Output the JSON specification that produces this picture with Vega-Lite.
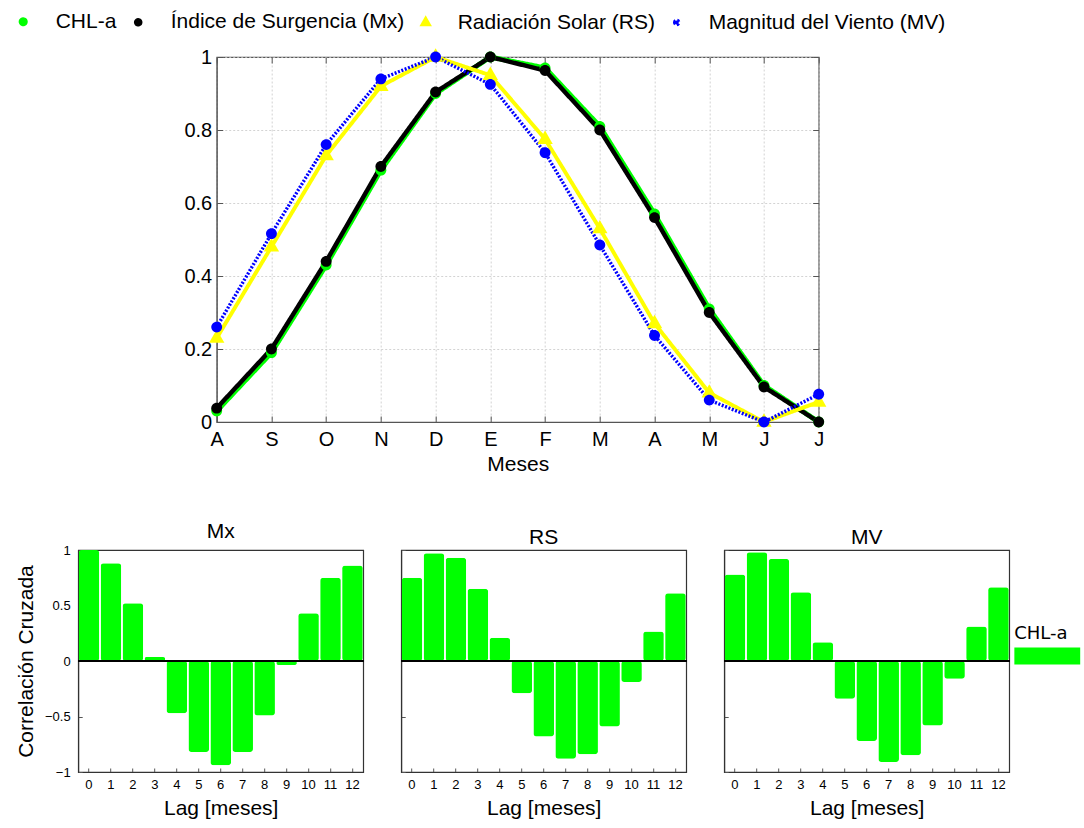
{
  "$schema": "https://vega.github.io/schema/vega-lite/v6.json",
  "padding": {"left": 8, "top": 6, "right": 10, "bottom": 0},
  "background": "white",
  "config": {
    "font": "Liberation Sans",
    "view": {"stroke": "#555", "strokeWidth": 1.2},
    "axis": {"labelFont": "Liberation Sans", "titleFont": "Liberation Sans", "labelColor": "#000", "titleColor": "#000", "titleFontWeight": "normal", "domainColor": "#555", "tickColor": "#555", "labelFlush": false, "labelOverlap": false},
    "title": {"font": "Liberation Sans", "fontWeight": "normal", "color": "#000"}
  },
  "datasets": {
    "series": [
      {"orden": 0, "mes": "A", "serie": "CHL-a", "valor": 0.03},
      {"orden": 1, "mes": "S", "serie": "CHL-a", "valor": 0.19},
      {"orden": 2, "mes": "O", "serie": "CHL-a", "valor": 0.43},
      {"orden": 3, "mes": "N", "serie": "CHL-a", "valor": 0.69},
      {"orden": 4, "mes": "D", "serie": "CHL-a", "valor": 0.9},
      {"orden": 5, "mes": "E", "serie": "CHL-a", "valor": 1.0},
      {"orden": 6, "mes": "F", "serie": "CHL-a", "valor": 0.97},
      {"orden": 7, "mes": "M", "serie": "CHL-a", "valor": 0.81},
      {"orden": 8, "mes": "A", "serie": "CHL-a", "valor": 0.57},
      {"orden": 9, "mes": "M", "serie": "CHL-a", "valor": 0.31},
      {"orden": 10, "mes": "J", "serie": "CHL-a", "valor": 0.1},
      {"orden": 11, "mes": "J", "serie": "CHL-a", "valor": 0.0},
      {"orden": 0, "mes": "A", "serie": "Índice de Surgencia (Mx)", "valor": 0.038},
      {"orden": 1, "mes": "S", "serie": "Índice de Surgencia (Mx)", "valor": 0.2},
      {"orden": 2, "mes": "O", "serie": "Índice de Surgencia (Mx)", "valor": 0.44},
      {"orden": 3, "mes": "N", "serie": "Índice de Surgencia (Mx)", "valor": 0.7},
      {"orden": 4, "mes": "D", "serie": "Índice de Surgencia (Mx)", "valor": 0.904},
      {"orden": 5, "mes": "E", "serie": "Índice de Surgencia (Mx)", "valor": 1.0},
      {"orden": 6, "mes": "F", "serie": "Índice de Surgencia (Mx)", "valor": 0.963},
      {"orden": 7, "mes": "M", "serie": "Índice de Surgencia (Mx)", "valor": 0.8},
      {"orden": 8, "mes": "A", "serie": "Índice de Surgencia (Mx)", "valor": 0.56},
      {"orden": 9, "mes": "M", "serie": "Índice de Surgencia (Mx)", "valor": 0.3},
      {"orden": 10, "mes": "J", "serie": "Índice de Surgencia (Mx)", "valor": 0.096},
      {"orden": 11, "mes": "J", "serie": "Índice de Surgencia (Mx)", "valor": 0.0},
      {"orden": 0, "mes": "A", "serie": "Radiación Solar (RS)", "valor": 0.23},
      {"orden": 1, "mes": "S", "serie": "Radiación Solar (RS)", "valor": 0.48},
      {"orden": 2, "mes": "O", "serie": "Radiación Solar (RS)", "valor": 0.73},
      {"orden": 3, "mes": "N", "serie": "Radiación Solar (RS)", "valor": 0.92},
      {"orden": 4, "mes": "D", "serie": "Radiación Solar (RS)", "valor": 1.0},
      {"orden": 5, "mes": "E", "serie": "Radiación Solar (RS)", "valor": 0.95},
      {"orden": 6, "mes": "F", "serie": "Radiación Solar (RS)", "valor": 0.775},
      {"orden": 7, "mes": "M", "serie": "Radiación Solar (RS)", "valor": 0.53},
      {"orden": 8, "mes": "A", "serie": "Radiación Solar (RS)", "valor": 0.27},
      {"orden": 9, "mes": "M", "serie": "Radiación Solar (RS)", "valor": 0.08},
      {"orden": 10, "mes": "J", "serie": "Radiación Solar (RS)", "valor": 0.0},
      {"orden": 11, "mes": "J", "serie": "Radiación Solar (RS)", "valor": 0.055},
      {"orden": 0, "mes": "A", "serie": "Magnitud del Viento (MV)", "valor": 0.26},
      {"orden": 1, "mes": "S", "serie": "Magnitud del Viento (MV)", "valor": 0.516},
      {"orden": 2, "mes": "O", "serie": "Magnitud del Viento (MV)", "valor": 0.76},
      {"orden": 3, "mes": "N", "serie": "Magnitud del Viento (MV)", "valor": 0.94},
      {"orden": 4, "mes": "D", "serie": "Magnitud del Viento (MV)", "valor": 1.0},
      {"orden": 5, "mes": "E", "serie": "Magnitud del Viento (MV)", "valor": 0.925},
      {"orden": 6, "mes": "F", "serie": "Magnitud del Viento (MV)", "valor": 0.738},
      {"orden": 7, "mes": "M", "serie": "Magnitud del Viento (MV)", "valor": 0.485},
      {"orden": 8, "mes": "A", "serie": "Magnitud del Viento (MV)", "valor": 0.237},
      {"orden": 9, "mes": "M", "serie": "Magnitud del Viento (MV)", "valor": 0.06},
      {"orden": 10, "mes": "J", "serie": "Magnitud del Viento (MV)", "valor": 0.0},
      {"orden": 11, "mes": "J", "serie": "Magnitud del Viento (MV)", "valor": 0.076}
    ],
    "mx": [
      {"lag": 0, "correlacion": 1.0}, {"lag": 1, "correlacion": 0.88}, {"lag": 2, "correlacion": 0.52},
      {"lag": 3, "correlacion": 0.035}, {"lag": 4, "correlacion": -0.47}, {"lag": 5, "correlacion": -0.82},
      {"lag": 6, "correlacion": -0.94}, {"lag": 7, "correlacion": -0.82}, {"lag": 8, "correlacion": -0.49},
      {"lag": 9, "correlacion": -0.035}, {"lag": 10, "correlacion": 0.43}, {"lag": 11, "correlacion": 0.75},
      {"lag": 12, "correlacion": 0.86}
    ],
    "rs": [
      {"lag": 0, "correlacion": 0.75}, {"lag": 1, "correlacion": 0.97}, {"lag": 2, "correlacion": 0.93},
      {"lag": 3, "correlacion": 0.65}, {"lag": 4, "correlacion": 0.21}, {"lag": 5, "correlacion": -0.29},
      {"lag": 6, "correlacion": -0.68}, {"lag": 7, "correlacion": -0.88}, {"lag": 8, "correlacion": -0.84},
      {"lag": 9, "correlacion": -0.59}, {"lag": 10, "correlacion": -0.19}, {"lag": 11, "correlacion": 0.265},
      {"lag": 12, "correlacion": 0.61}
    ],
    "mv": [
      {"lag": 0, "correlacion": 0.78}, {"lag": 1, "correlacion": 0.98}, {"lag": 2, "correlacion": 0.92},
      {"lag": 3, "correlacion": 0.62}, {"lag": 4, "correlacion": 0.17}, {"lag": 5, "correlacion": -0.34},
      {"lag": 6, "correlacion": -0.72}, {"lag": 7, "correlacion": -0.91}, {"lag": 8, "correlacion": -0.85},
      {"lag": 9, "correlacion": -0.58}, {"lag": 10, "correlacion": -0.16}, {"lag": 11, "correlacion": 0.31},
      {"lag": 12, "correlacion": 0.665}
    ]
  },
  "resolve": {
    "scale": {"color": "independent", "shape": "independent", "strokeDash": "independent", "strokeWidth": "independent"},
    "legend": {"color": "independent", "shape": "independent"}
  },
  "spacing": 45,
  "center": true,
  "vconcat": [
    {
      "width": 602,
      "height": 365,
      "data": {"name": "series"},
      "resolve": {"axis": {"x": "independent", "y": "independent"}},
      "layer": [
        {
          "mark": {"type": "line", "strokeJoin": "round", "strokeCap": "butt"},
          "encoding": {
            "x": {
              "field": "orden", "type": "quantitative",
              "scale": {"domain": [0, 11], "nice": false, "zero": false},
              "axis": {
                "values": [0, 1, 2, 3, 4, 5, 6, 7, 8, 9, 10, 11],
                "labelExpr": "['A','S','O','N','D','E','F','M','A','M','J','J'][datum.value]",
                "title": "Meses", "titleFontSize": 21, "titlePadding": 4,
                "labelFontSize": 20, "labelPadding": 13,
                "tickSize": -6, "grid": true, "gridColor": "#c8c8c8", "gridDash": [2, 2], "gridWidth": 0.8
              }
            },
            "y": {
              "field": "valor", "type": "quantitative",
              "scale": {"domain": [0, 1], "nice": false},
              "axis": {
                "values": [0, 0.2, 0.4, 0.6, 0.8, 1], "format": "~g", "title": null,
                "labelFontSize": 20, "labelPadding": 11, "tickSize": -6,
                "grid": true, "gridColor": "#c8c8c8", "gridDash": [2, 2], "gridWidth": 0.8
              }
            },
            "color": {
              "field": "serie", "type": "nominal",
              "scale": {"domain": ["CHL-a", "Índice de Surgencia (Mx)", "Radiación Solar (RS)", "Magnitud del Viento (MV)"], "range": ["#00ff00", "#000000", "#ffff00", "#0000ff"]},
              "legend": {
                "orient": "none", "legendX": -208, "legendY": -50, "direction": "horizontal", "title": null,
                "symbolSize": 576, "symbolStrokeWidth": 0,
                "labelFontSize": 21, "labelFont": "Liberation Sans", "labelColor": "#000", "labelLimit": 400,
                "labelOffset": 18, "columnPadding": 7,
                "encode": {
                  "symbols": {
                    "update": {
                      "opacity": {"value": 1},
                      "strokeWidth": {"value": 0},
                      "shape": [
                        {"test": "datum.value === 'Radiación Solar (RS)'", "value": "M-2.667,-0.17H-0.173L0,-0.5L0.173,-0.17H2.667V0.17H0.352L0.42,0.3H-0.42L-0.352,0.17H-2.667Z"},
                        {"value": "M-2.667,-0.15H-0.4243A0.45,0.45 0 0 1 0.4243,-0.15H2.667V0.15H0.4243A0.45,0.45 0 0 1 -0.4243,0.15H-2.667Z"}
                      ],
                      "fill": [
                        {"test": "datum.value === 'CHL-a'", "value": "#00ff00"},
                        {"test": "datum.value === 'Índice de Surgencia (Mx)'", "value": "#000000"},
                        {"test": "datum.value === 'Radiación Solar (RS)'", "value": "#ffff00"},
                        {"value": "#0000ff"}
                      ]
                    }
                  }
                }
              }
            },
            "strokeDash": {
              "field": "serie", "type": "nominal",
              "scale": {"domain": ["CHL-a", "Índice de Surgencia (Mx)", "Radiación Solar (RS)", "Magnitud del Viento (MV)"], "range": [[1, 0], [1, 0], [1, 0], [2, 1.6]]},
              "legend": null
            },
            "strokeWidth": {
              "field": "serie", "type": "nominal",
              "scale": {"domain": ["CHL-a", "Índice de Surgencia (Mx)", "Radiación Solar (RS)", "Magnitud del Viento (MV)"], "range": [5, 3.4, 4.2, 3.2]},
              "legend": null
            }
          }
        },
        {
          "mark": {"type": "point", "filled": true, "opacity": 1, "strokeWidth": 0, "size": 4096},
          "encoding": {
            "x": {
              "field": "orden", "type": "quantitative",
              "axis": {"orient": "top", "values": [0, 1, 2, 3, 4, 5, 6, 7, 8, 9, 10, 11], "labels": false, "title": null, "domain": false, "grid": false, "tickSize": -6}
            },
            "y": {
              "field": "valor", "type": "quantitative",
              "axis": {"orient": "right", "values": [0, 0.2, 0.4, 0.6, 0.8, 1], "labels": false, "title": null, "domain": false, "grid": false, "tickSize": -6}
            },
            "color": {
              "field": "serie", "type": "nominal",
              "scale": {"domain": ["CHL-a", "Índice de Surgencia (Mx)", "Radiación Solar (RS)", "Magnitud del Viento (MV)"], "range": ["#00ff00", "#000000", "#ffff00", "#0000ff"]},
              "legend": null
            },
            "shape": {
              "field": "serie", "type": "nominal",
              "legend": null,
              "scale": {
                "domain": ["CHL-a", "Índice de Surgencia (Mx)", "Radiación Solar (RS)", "Magnitud del Viento (MV)"],
                "range": [
                  "M-0.17,0A0.17,0.17 0 1 1 0.17,0A0.17,0.17 0 1 1 -0.17,0Z",
                  "M-0.17,0A0.17,0.17 0 1 1 0.17,0A0.17,0.17 0 1 1 -0.17,0Z",
                  "M0,-0.27L0.24,0.15L-0.24,0.15Z",
                  "M-0.17,0A0.17,0.17 0 1 1 0.17,0A0.17,0.17 0 1 1 -0.17,0Z"
                ]
              }
            }
          }
        }
      ]
    },
    {
      "spacing": 34,
      "resolve": {
        "scale": {"color": "independent"},
        "legend": {"color": "independent"}
      },
      "hconcat": [
        {
          "width": 285, "height": 222,
          "view": {"stroke": "#333"},
          "title": {"text": "Mx", "fontSize": 21, "offset": 2},
          "data": {"name": "mx"},
          "layer": [
            {
              "mark": {"type": "bar", "color": "#00ff00", "cornerRadius": 3},
              "encoding": {
                "x": {"field": "lag", "type": "ordinal", "scale": {"paddingInner": 0.06, "paddingOuter": 0.02},
                  "axis": {"title": "Lag [meses]", "titleFontSize": 21, "titlePadding": 6, "labelFontSize": 13, "labelAngle": 0, "labelPadding": 10, "tickSize": -4, "domainColor": "#333"}},
                "y": {"field": "correlacion", "type": "quantitative", "scale": {"domain": [-1, 1], "nice": false},
                  "axis": {"values": [-1, -0.5, 0, 0.5, 1], "format": "~g", "title": "Correlación Cruzada", "titleFontSize": 21, "titlePadding": 8, "labelFontSize": 13, "labelPadding": 12, "tickSize": -4, "grid": false, "domainColor": "#333"}}
              }
            },
            {"mark": {"type": "rule", "color": "#000", "strokeWidth": 1.5}, "encoding": {"y": {"datum": 0}}}
          ]
        },
        {
          "width": 285, "height": 222,
          "view": {"stroke": "#333"},
          "title": {"text": "RS", "fontSize": 21, "offset": 2},
          "data": {"name": "rs"},
          "layer": [
            {
              "mark": {"type": "bar", "color": "#00ff00", "cornerRadius": 3},
              "encoding": {
                "x": {"field": "lag", "type": "ordinal", "scale": {"paddingInner": 0.06, "paddingOuter": 0.02},
                  "axis": {"title": "Lag [meses]", "titleFontSize": 21, "titlePadding": 6, "labelFontSize": 13, "labelAngle": 0, "labelPadding": 10, "tickSize": -4, "domainColor": "#333"}},
                "y": {"field": "correlacion", "type": "quantitative", "scale": {"domain": [-1, 1], "nice": false},
                  "axis": {"values": [-1, -0.5, 0, 0.5, 1], "labels": false, "title": null, "tickSize": -4, "grid": false, "domainColor": "#333"}}
              }
            },
            {"mark": {"type": "rule", "color": "#000", "strokeWidth": 1.5}, "encoding": {"y": {"datum": 0}}}
          ]
        },
        {
          "width": 285, "height": 222,
          "view": {"stroke": "#333"},
          "title": {"text": "MV", "fontSize": 21, "offset": 2},
          "data": {"name": "mv"},
          "layer": [
            {
              "mark": {"type": "bar", "cornerRadius": 3},
              "encoding": {
                "x": {"field": "lag", "type": "ordinal", "scale": {"paddingInner": 0.06, "paddingOuter": 0.02},
                  "axis": {"title": "Lag [meses]", "titleFontSize": 21, "titlePadding": 6, "labelFontSize": 13, "labelAngle": 0, "labelPadding": 10, "tickSize": -4, "domainColor": "#333"}},
                "y": {"field": "correlacion", "type": "quantitative", "scale": {"domain": [-1, 1], "nice": false},
                  "axis": {"values": [-1, -0.5, 0, 0.5, 1], "labels": false, "title": null, "tickSize": -4, "grid": false, "domainColor": "#333"}},
                "color": {
                  "datum": "CHL-a", "type": "nominal",
                  "scale": {"range": ["#00ff00"]},
                  "legend": {
                    "orient": "none", "legendX": 290, "legendY": 75,
                    "title": "CHL-a", "titleFont": "DejaVu Sans", "titleFontSize": 18, "titleFontWeight": "normal", "titleColor": "#000", "titlePadding": 4,
                    "labelExpr": "''", "clipHeight": 18,
                    "symbolType": "M-1,-0.26H1V0.26H-1Z", "symbolSize": 4356, "symbolStrokeWidth": 0, "symbolOpacity": 1
                  }
                }
              }
            },
            {"mark": {"type": "rule", "color": "#000", "strokeWidth": 1.5}, "encoding": {"y": {"datum": 0}}}
          ]
        }
      ]
    }
  ]
}
